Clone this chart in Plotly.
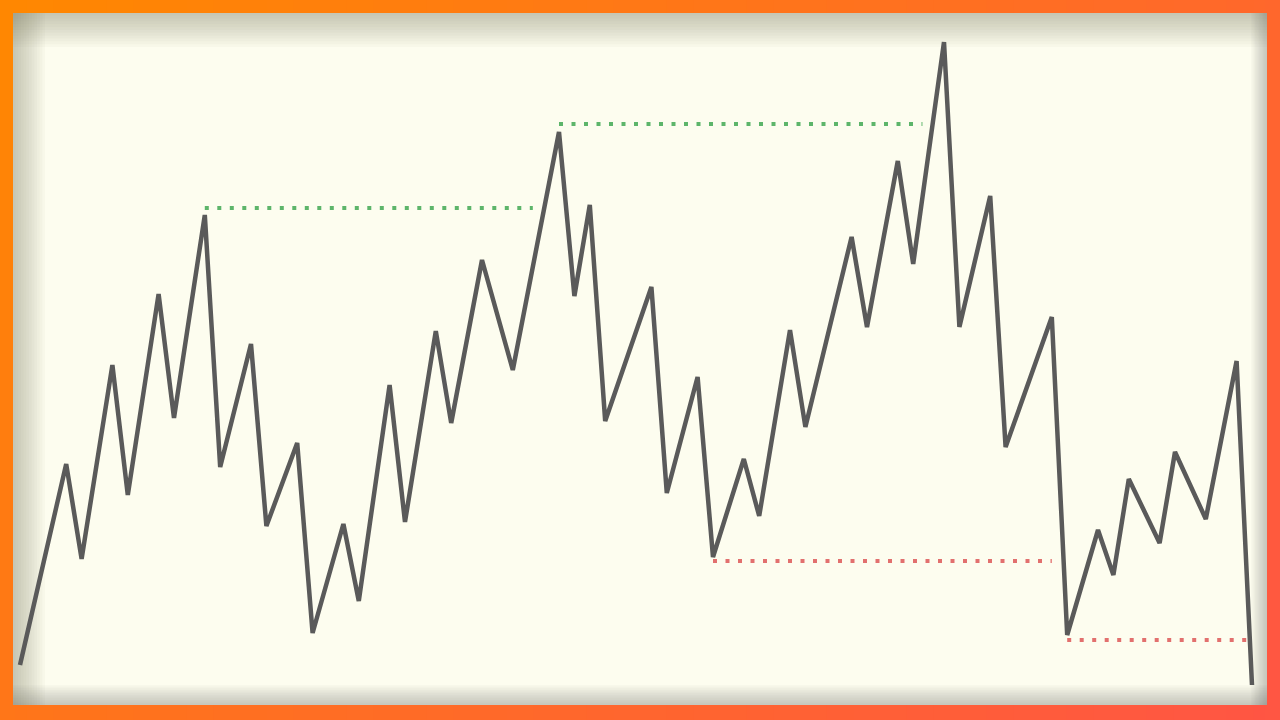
import plotly.graph_objects as go

# ---------------------------------------------------------------------------
# Data (bar index, price)
# ---------------------------------------------------------------------------
bar_index = [0, 3, 4, 6, 7, 9, 10, 12, 13, 15, 16, 18, 19, 21, 22, 24, 25, 27, 28,
             30, 32, 35, 36, 37, 38, 41, 42, 44, 45, 47, 48, 50, 51, 54, 55, 57,
             58, 60, 61, 63, 64, 67, 68, 70, 71, 72, 74, 75, 77, 79, 80]
price = [5.5, 25.6, 16.1, 35.5, 22.5, 42.6, 30.2, 50.5, 25.3, 37.6, 19.4, 27.7,
         8.7, 19.6, 11.9, 33.5, 19.8, 38.9, 29.7, 46.0, 35.0, 58.8, 42.4, 51.5,
         29.9, 43.3, 22.7, 34.3, 16.3, 26.1, 20.4, 39.0, 29.3, 48.3, 39.3, 55.9,
         45.6, 67.8, 39.3, 52.4, 27.3, 40.3, 8.5, 19.0, 14.5, 24.1, 17.7, 26.8,
         20.1, 35.9, 3.5]

# breakout levels: (start index, end index, level)
resistance_levels = [(12, 33.3, 51.2), (35, 58.6, 59.6)]
support_levels = [(45, 67.0, 15.9), (68, 79.7, 8.0)]

W, H = 1280, 720
BORDER = 13
CREAM = "#fdfdef"
LINE_GREY = "#5a5a5a"
GREEN = "#5db56a"
RED = "#e2706e"


def _mix(c0, c1, t):
    return "#%02x%02x%02x" % tuple(round(a + (b - a) * t) for a, b in zip(c0, c1))


def _frame_shapes():
    """Diagonal orange->red frame, cream panel and a soft inner shadow."""
    tl, br = (0xFF, 0x88, 0x00), (0xFF, 0x55, 0x44)
    shapes = []
    n = 48

    def px(x0, y0, x1, y1, color, opacity=1.0):
        shapes.append(dict(type="rect", xref="paper", yref="paper",
                           x0=x0 / W, x1=x1 / W, y0=1 - y1 / H, y1=1 - y0 / H,
                           fillcolor=color, opacity=opacity, line_width=0, layer="below"))

    # top and bottom strips
    for i in range(n):
        x0, x1 = W * i / n, W * (i + 1) / n + 1
        xc = (x0 + x1) / 2
        px(x0, 0, x1, BORDER + 2, _mix(tl, br, (xc + 6) / (W + H)))
        px(x0, H - BORDER - 4, x1, H, _mix(tl, br, (xc + H - 6) / (W + H)))
    # left and right strips
    m = 24
    for i in range(m):
        y0, y1 = H * i / m, H * (i + 1) / m + 1
        yc = (y0 + y1) / 2
        px(0, y0, BORDER + 2, y1, _mix(tl, br, (yc + 6) / (W + H)))
        px(W - BORDER - 2, y0, W, y1, _mix(tl, br, (yc + W - 6) / (W + H)))
    # panel
    L, T, R, B = BORDER, BORDER, W - BORDER, H - BORDER - 2
    px(L, T, R, B, CREAM)
    # inner shadow, heavier on top/left
    steps = 12
    for k in range(steps):
        f = (k + 1) / steps
        px(L, T, R, T + 34 * f, "#6e6e60", 0.035)
        px(L, T, L + 32 * f, B, "#6e6e60", 0.035)
        px(R - 16 * f, T, R, B, "#6e6e60", 0.03)
        px(L, B - 20 * f, R, B, "#6e6e60", 0.03)
    return shapes


fig = go.Figure()

for x0, x1, lvl in resistance_levels:
    fig.add_trace(go.Scatter(x=[x0, x1], y=[lvl, lvl], mode="lines",
                             line=dict(color=GREEN, width=4, dash="4px,8.5px"),
                             hoverinfo="skip", showlegend=False))
for x0, x1, lvl in support_levels:
    fig.add_trace(go.Scatter(x=[x0, x1], y=[lvl, lvl], mode="lines",
                             line=dict(color=RED, width=4, dash="4px,8.5px"),
                             hoverinfo="skip", showlegend=False))

fig.add_trace(go.Scatter(x=bar_index, y=price, mode="lines",
                         line=dict(color=LINE_GREY, width=4.5),
                         showlegend=False))

# 15.4 px per bar, bar 0 sits at x=20px; price*10 px measured up from y=720
fig.update_xaxes(range=[-20 / 15.4, (W - 20) / 15.4], visible=False, fixedrange=True)
fig.update_yaxes(range=[0, H / 10], visible=False, fixedrange=True)
fig.update_layout(
    width=W, height=H,
    margin=dict(l=0, r=0, t=0, b=0),
    paper_bgcolor=CREAM, plot_bgcolor="rgba(0,0,0,0)",
    shapes=_frame_shapes(),
    showlegend=False,
)

fig.write_html("out.html", config={"displayModeBar": False},
               post_script="document.body.style.margin='0';document.body.style.overflow='hidden';")
